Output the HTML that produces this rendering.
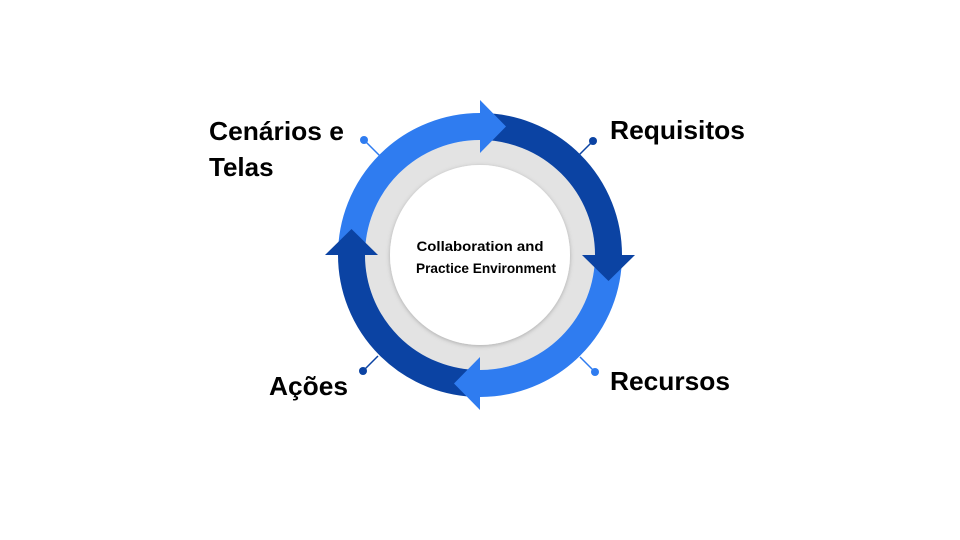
<!DOCTYPE html>
<html><head><meta charset="utf-8"><style>
html,body{margin:0;padding:0;background:#fff;}
svg{display:block;}
text{font-family:"Liberation Sans",Arial,sans-serif;font-weight:bold;fill:#000;}
</style></head><body>
<svg width="960" height="540" viewBox="0 0 960 540">
<defs>
<filter id="sh" x="-20%" y="-20%" width="140%" height="140%"><feDropShadow dx="0" dy="1" stdDeviation="2" flood-opacity="0.25"/></filter>
</defs>
<circle cx="480" cy="255" r="102.5" fill="none" stroke="#e3e3e3" stroke-width="25"/>
<circle cx="480" cy="255" r="90" fill="#fff" filter="url(#sh)"/>
<g fill="none" stroke-width="27">
<path d="M480 126.5 A128.5 128.5 0 0 1 608.5 255" stroke="#0B43A3"/>
<path d="M608.5 255 A128.5 128.5 0 0 1 480 383.5" stroke="#2F7CF0"/>
<path d="M480 383.5 A128.5 128.5 0 0 1 351.5 255" stroke="#0B43A3"/>
<path d="M351.5 255 A128.5 128.5 0 0 1 480 126.5" stroke="#2F7CF0"/>
</g>
<polygon points="480,100 480,153 506,126.5" fill="#2F7CF0"/>
<polygon points="582,255 635,255 608.5,281" fill="#0B43A3"/>
<polygon points="480,357 480,410 454,383.5" fill="#2F7CF0"/>
<polygon points="325,255 378,255 351.5,229" fill="#0B43A3"/>
<g stroke-width="1.5">
<line x1="364" y1="140" x2="380" y2="156" stroke="#2F7CF0"/>
<line x1="593" y1="141" x2="578" y2="156" stroke="#0B43A3"/>
<line x1="595" y1="372" x2="580" y2="357" stroke="#2F7CF0"/>
<line x1="363" y1="371" x2="378" y2="356" stroke="#0B43A3"/>
</g>
<circle cx="364" cy="140" r="4" fill="#2F7CF0"/>
<circle cx="593" cy="141" r="4" fill="#0B43A3"/>
<circle cx="595" cy="372" r="4" fill="#2F7CF0"/>
<circle cx="363" cy="371" r="4" fill="#0B43A3"/>
<text x="209" y="140" font-size="26" textLength="135" lengthAdjust="spacingAndGlyphs">Cenários e</text>
<text x="209" y="176" font-size="26">Telas</text>
<text x="610" y="139" font-size="26" textLength="135" lengthAdjust="spacingAndGlyphs">Requisitos</text>
<text x="610" y="390" font-size="26" textLength="120" lengthAdjust="spacingAndGlyphs">Recursos</text>
<text x="269" y="395" font-size="26" textLength="79" lengthAdjust="spacingAndGlyphs">Ações</text>
<text x="480" y="251" font-size="14" text-anchor="middle" textLength="127" lengthAdjust="spacingAndGlyphs">Collaboration and</text>
<text x="486" y="273" font-size="14" text-anchor="middle" textLength="140" lengthAdjust="spacingAndGlyphs">Practice Environment</text>
</svg>
</body></html>
